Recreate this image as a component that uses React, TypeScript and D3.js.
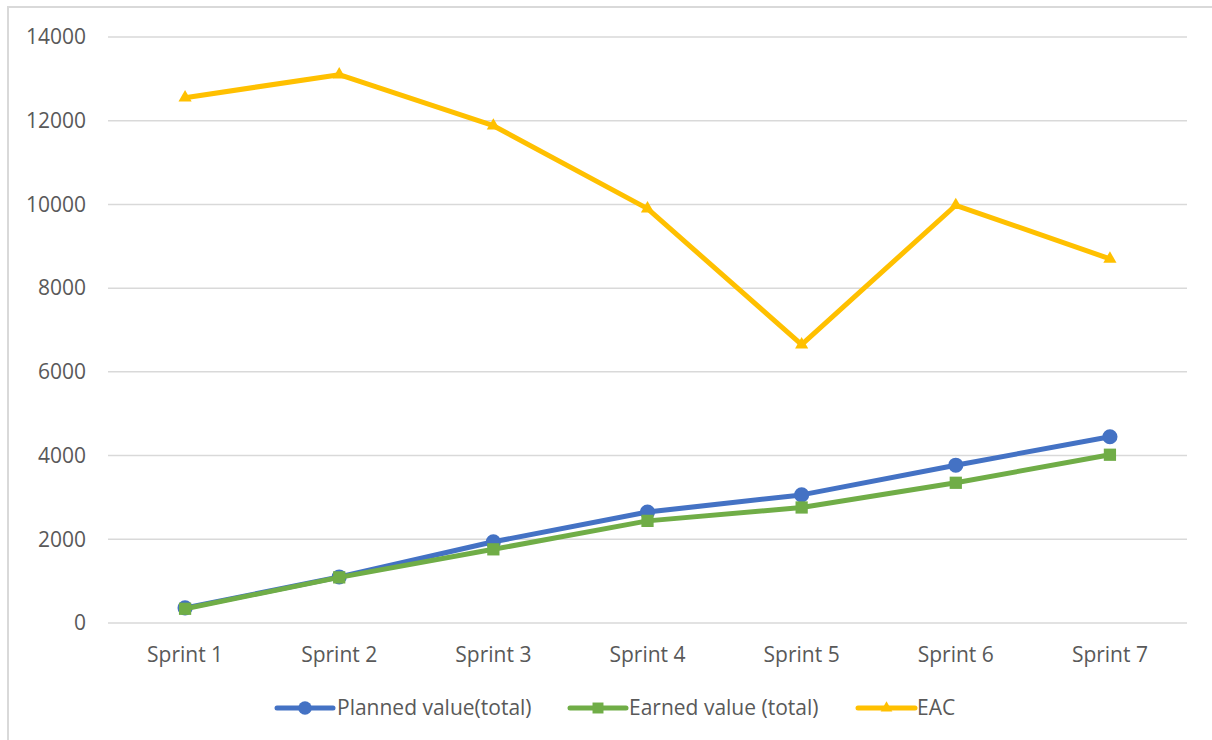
import React, { useEffect, useRef } from 'react';
import * as d3 from 'd3';

const sprints = ['Sprint 1', 'Sprint 2', 'Sprint 3', 'Sprint 4', 'Sprint 5', 'Sprint 6', 'Sprint 7'];
const plannedValue = [360, 1100, 1940, 2650, 3060, 3770, 4450];
const earnedValue = [340, 1090, 1760, 2440, 2760, 3350, 4020];
const eac = [12550, 13100, 11880, 9900, 6650, 9980, 8700];
const yTicks = [0, 2000, 4000, 6000, 8000, 10000, 12000, 14000];

const seriesList = [
  { name: 'Planned value(total)', values: plannedValue, color: '#4472C4', symbol: d3.symbolCircle, size: 180 },
  { name: 'Earned value (total)', values: earnedValue, color: '#70AD47', symbol: d3.symbolSquare, size: 150 },
  { name: 'EAC', values: eac, color: '#FFC000', symbol: d3.symbolTriangle, size: 75 },
];

export default function App() {
  const ref = useRef<SVGSVGElement>(null);

  useEffect(() => {
    const width = 1212;
    const height = 740;
    const margin = { left: 108, right: 25, top: 37, bottom: 117 };
    const font = '"Open Sans", sans-serif';
    const fontSize = 21;
    const textColor = '#595959';

    const svg = d3.select(ref.current);
    svg.selectAll('*').remove();

    // outer chart frame, cropped on the right and bottom
    svg.append('rect')
      .attr('x', 8).attr('y', 7)
      .attr('width', 1300).attr('height', 800)
      .attr('fill', 'white')
      .attr('stroke', '#d9d9d9')
      .attr('stroke-width', 2);

    const x = d3.scaleBand()
      .domain(sprints)
      .range([margin.left, width - margin.right]);

    const y = d3.scaleLinear()
      .domain([0, 14000])
      .range([height - margin.bottom, margin.top]);

    // gridlines
    svg.append('g')
      .selectAll('line')
      .data(yTicks)
      .enter()
      .append('line')
      .attr('x1', margin.left)
      .attr('x2', width - margin.right)
      .attr('y1', (d) => y(d))
      .attr('y2', (d) => y(d))
      .attr('stroke', '#d9d9d9')
      .attr('stroke-width', 1.5);

    // y tick labels
    svg.append('g')
      .selectAll('text')
      .data(yTicks)
      .enter()
      .append('text')
      .attr('x', 86)
      .attr('y', (d) => y(d))
      .attr('dy', '0.35em')
      .attr('text-anchor', 'end')
      .attr('font-family', font)
      .attr('font-size', fontSize)
      .attr('fill', textColor)
      .text((d) => d);

    // x labels
    svg.append('g')
      .selectAll('text')
      .data(sprints)
      .enter()
      .append('text')
      .attr('x', (d) => x(d)! + x.bandwidth() / 2)
      .attr('y', 662)
      .attr('text-anchor', 'middle')
      .attr('font-family', font)
      .attr('font-size', fontSize)
      .attr('fill', textColor)
      .text((d) => d);

    const line = d3.line<number>()
      .x((d, i) => x(sprints[i])! + x.bandwidth() / 2)
      .y((d) => y(d));

    seriesList.forEach((s) => {
      const g = svg.append('g');
      g.append('path')
        .datum(s.values)
        .attr('d', line)
        .attr('fill', 'none')
        .attr('stroke', s.color)
        .attr('stroke-width', 5)
        .attr('stroke-linejoin', 'round');

      g.selectAll('path.marker')
        .data(s.values)
        .enter()
        .append('path')
        .attr('class', 'marker')
        .attr('d', d3.symbol().type(s.symbol).size(s.size)())
        .attr('transform', (d, i) => `translate(${x(sprints[i])! + x.bandwidth() / 2},${y(d)})`)
        .attr('fill', s.color);
    });

    // legend
    const legendItems = [
      { x1: 277, x2: 333, tx: 337 },
      { x1: 570, x2: 626, tx: 629 },
      { x1: 858, x2: 915, tx: 917 },
    ];
    const ly = 708;
    seriesList.forEach((s, i) => {
      const li = legendItems[i];
      const g = svg.append('g');
      g.append('line')
        .attr('x1', li.x1).attr('x2', li.x2)
        .attr('y1', ly).attr('y2', ly)
        .attr('stroke', s.color)
        .attr('stroke-width', 5)
        .attr('stroke-linecap', 'round');
      g.append('path')
        .attr('d', d3.symbol().type(s.symbol).size(s.size * 0.8)())
        .attr('transform', `translate(${(li.x1 + li.x2) / 2},${ly})`)
        .attr('fill', s.color);
      g.append('text')
        .attr('x', li.tx)
        .attr('y', ly)
        .attr('dy', '0.35em')
        .attr('font-family', font)
        .attr('font-size', fontSize)
        .attr('fill', textColor)
        .text(s.name);
    });
  }, []);

  return (
    <svg
      ref={ref}
      width={1212}
      height={740}
      style={{ position: 'absolute', left: 0, top: 0, background: 'white' }}
    />
  );
}
